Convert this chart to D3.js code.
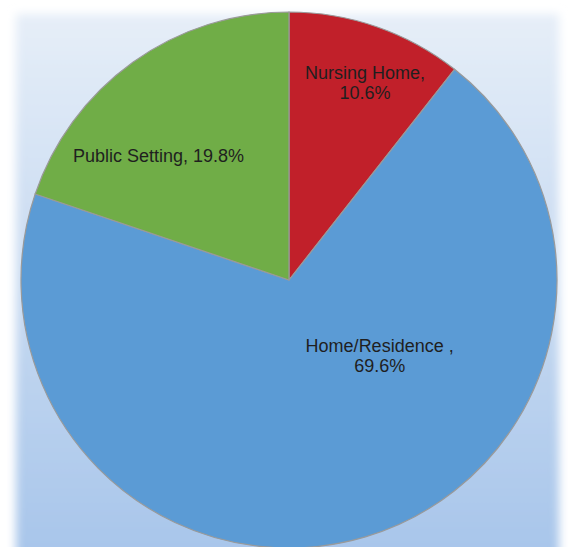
<!DOCTYPE html>
<html>
<head>
<meta charset="utf-8">
<script src="https://cdn.jsdelivr.net/npm/d3@7"></script>
<style>
  body { margin: 0; background: #ffffff; }
  svg { display: block; }
</style>
</head>
<body>
<div id="chart"></div>
<script>
// data
var categories = ["Nursing Home", "Home/Residence", "Public Setting"];
var values = [10.6, 69.6, 19.8];
var labelLines = [
    ["Nursing Home,", "10.6%"],
    ["Home/Residence ,", "69.6%"],
    ["Public Setting, 19.8%"]
];

var width = 571,
    height = 547;

var svg = d3.select("#chart")
    .append("svg")
    .attr("width", width)
    .attr("height", height);

var defs = svg.append("defs");

// soft panel background
var grad = defs.append("linearGradient")
    .attr("id", "panelGrad")
    .attr("x1", 0).attr("y1", 0).attr("x2", 0).attr("y2", 1);
grad.append("stop").attr("offset", "0%").attr("stop-color", "#e6eef8");
grad.append("stop").attr("offset", "100%").attr("stop-color", "#a7c5ea");

defs.append("filter")
    .attr("id", "soft")
    .attr("x", "-10%").attr("y", "-10%").attr("width", "120%").attr("height", "120%")
    .append("feGaussianBlur")
    .attr("stdDeviation", 5);

svg.append("rect")
    .attr("x", 16)
    .attr("y", 14)
    .attr("width", 543)
    .attr("height", 545)
    .attr("fill", "url(#panelGrad)")
    .attr("filter", "url(#soft)");

var cx = 289,
    cy = 280,
    radius = 268;

var color = d3.scaleOrdinal()
    .domain(categories)
    .range(["#c1202a", "#5b9bd5", "#70ad47"]);

var pie = d3.pie()
    .sort(null)
    .value(function (d) { return d; });

var arcs = pie(values);

var arc = d3.arc()
    .innerRadius(0)
    .outerRadius(radius);

var g = svg.append("g")
    .attr("transform", "translate(" + cx + "," + cy + ")");

g.selectAll("path")
    .data(arcs)
    .enter()
    .append("path")
    .attr("d", arc)
    .attr("fill", function (d, i) { return color(categories[i]); })
    .attr("stroke", "#9a9a9a")
    .attr("stroke-width", 1.2);

// label anchors in polar form (angle in degrees clockwise from top, distance from centre)
var labelAngle = [21.1, 129.8, 313.5];
var labelDist = [211, 118, 180];
var lineHeight = 20;

g.selectAll("text.lbl")
    .data(arcs)
    .enter()
    .append("text")
    .attr("class", "lbl")
    .attr("text-anchor", "middle")
    .attr("font-family", "Liberation Sans, Arial, sans-serif")
    .attr("font-size", 18)
    .attr("fill", "#1f1f1f")
    .each(function (d, i) {
        var a = labelAngle[i] * Math.PI / 180;
        var x = Math.sin(a) * labelDist[i],
            y = -Math.cos(a) * labelDist[i];
        var lines = labelLines[i];
        var t = d3.select(this);
        lines.forEach(function (line, j) {
            t.append("tspan")
                .attr("x", x)
                .attr("y", y + (j - (lines.length - 1) / 2) * lineHeight + 6)
                .text(line);
        });
    });
</script>
</body>
</html>
